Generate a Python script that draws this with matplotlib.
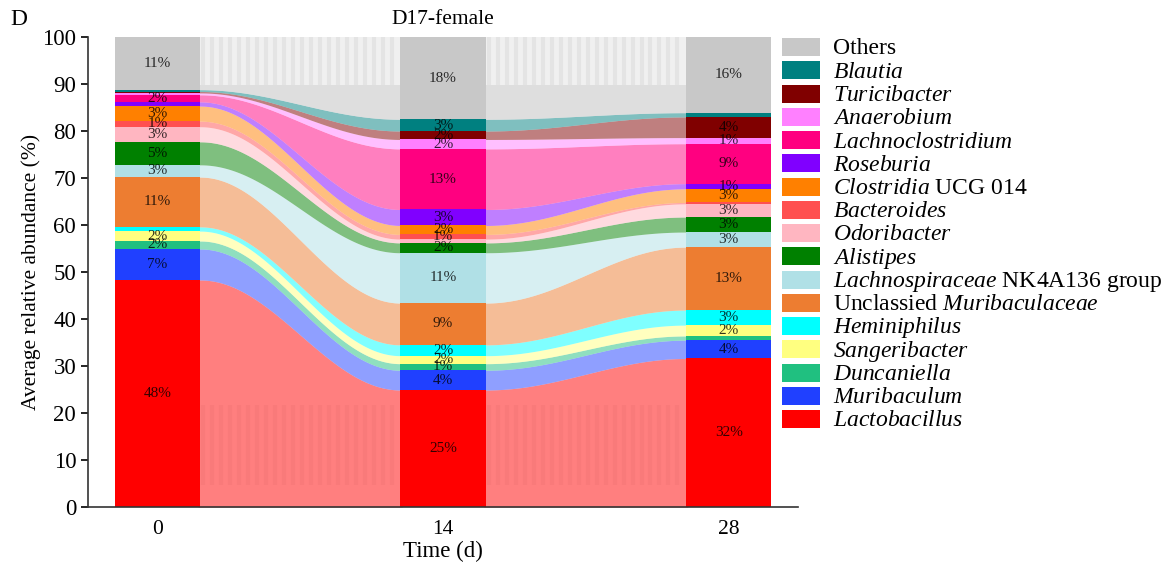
import matplotlib
matplotlib.use("Agg")
import matplotlib.pyplot as plt
from matplotlib.patches import Rectangle
import numpy as np

plt.rcParams['font.family'] = ['Liberation Serif', 'DejaVu Serif']
plt.rcParams['mathtext.fontset'] = 'custom'
plt.rcParams['mathtext.rm'] = 'Liberation Serif'
plt.rcParams['mathtext.it'] = 'Liberation Serif:italic'

# stacking order, bottom -> top
genera = [r'$\it{Lactobacillus}$', r'$\it{Muribaculum}$', r'$\it{Duncaniella}$',
          r'$\it{Sangeribacter}$', r'$\it{Heminiphilus}$', r'Unclassied $\it{Muribaculaceae}$',
          r'$\it{Lachnospiraceae}$ NK4A136 group', r'$\it{Alistipes}$', r'$\it{Odoribacter}$',
          r'$\it{Bacteroides}$', r'$\it{Clostridia}$ UCG 014', r'$\it{Roseburia}$',
          r'$\it{Lachnoclostridium}$', r'$\it{Anaerobium}$', r'$\it{Turicibacter}$',
          r'$\it{Blautia}$', 'Others']
colors = ['#ff0000', '#2040ff', '#20c080', '#ffff80', '#00ffff', '#ed7d31',
          '#b0e0e6', '#008000', '#ffb6c1', '#ff5050', '#ff8000', '#8000ff',
          '#ff0080', '#ff80ff', '#800000', '#008080', '#c8c8c8']

days = [0, 14, 28]
day0 = [48.3, 6.6, 1.7, 2.1, 0.9, 10.6, 2.6, 4.9, 3.2, 1.2, 3.2, 0.9, 1.5, 0.4, 0.3, 0.4, 11.2]
day14 = [24.9, 4.2, 1.4, 1.7, 2.3, 8.9, 10.7, 2.1, 0.8, 1.0, 1.9, 3.4, 12.9, 2.0, 1.8, 2.5, 17.5]
day28 = [31.6, 3.9, 0.9, 2.3, 3.2, 13.4, 3.2, 3.2, 2.8, 0.3, 2.9, 1.1, 8.5, 1.3, 4.4, 0.9, 16.1]

ab = np.array([day0, day14, day28])
tops = np.cumsum(ab, axis=1)
bots = tops - ab
w = 4.2

W, H = 1174, 566
fig = plt.figure(figsize=(W / 100, H / 100), dpi=100)
ax = fig.add_axes([88 / W, 1 - 507 / H, 710 / W, 470 / H])

# flows between bars
for j in range(len(days) - 1):
    x0 = days[j] + w / 2
    x1 = days[j + 1] - w / 2
    xs = np.linspace(x0 - 0.1, x1 + 0.1, 200)
    s = (1 - np.cos(np.pi * np.clip((xs - x0) / (x1 - x0), 0, 1))) / 2
    for i in range(len(genera)):
        lo = bots[j, i] + (bots[j + 1, i] - bots[j, i]) * s
        hi = tops[j, i] + (tops[j + 1, i] - tops[j, i]) * s
        a = 0.6 if genera[i] == 'Others' else 0.5
        ax.fill_between(xs, lo, hi, color=colors[i], alpha=a, lw=0, zorder=1)
    # faint vertical streaks like the original rendering
    ax.fill_between([x0, x1], 89.7, 100, color='#f0f0f0', lw=0, zorder=1.5)
    xv = np.arange(x0 + 0.15, x1, 0.44)
    ax.vlines(xv, 89.7, 100, color='#e4e4e4', lw=3, zorder=1.6)
    ax.vlines(xv, 4.7, 21.7, color='#f97a7a', lw=3, zorder=1.6)

# bars + labels
for j, d in enumerate(days):
    ax.bar([d] * len(genera), ab[j], bottom=bots[j], width=w, color=colors, lw=0, zorder=2)
    for i in range(len(genera)):
        v = ab[j, i]
        if v >= 1:
            ax.text(d, bots[j, i] + v / 2, '%d%%' % int(v + 0.5), ha='center', va='center',
                    fontsize=11, color='black', alpha=0.8, zorder=3)

ax.set_xlim(-3.4, 31.4)
ax.set_ylim(0, 100)
ax.set_yticks(range(0, 101, 10))
ax.set_xticks(days)
ax.tick_params(axis='y', labelsize=16.5, length=5, width=1.2)
ax.tick_params(axis='x', labelsize=15.5, length=0, pad=9)
for sp in ['left', 'bottom']:
    ax.spines[sp].set_linewidth(1.2)
    ax.spines[sp].set_color('#333333')
ax.spines['top'].set_visible(False)
ax.spines['right'].set_visible(False)
ax.set_xlabel('Time (d)', fontsize=16.5, labelpad=2)
ax.set_ylabel('Average relative abundance (%)', fontsize=15.5, labelpad=1)
ax.set_title('D17-female', fontsize=15.5, pad=9)
fig.text(10 / W, 1 - 25 / H, 'D', fontsize=17)

# legend, top -> bottom
for k, i in enumerate(range(len(genera) - 1, -1, -1)):
    yc = 47 + 23.25 * k
    fig.patches.append(Rectangle((782 / W, 1 - (yc + 9) / H), 38 / W, 18 / H,
                                 facecolor=colors[i], edgecolor='none',
                                 transform=fig.transFigure))
    fig.text(833 / W, 1 - (yc + 7.5) / H, genera[i], fontsize=17, va='baseline')

fig.savefig('out.png', dpi=100)
